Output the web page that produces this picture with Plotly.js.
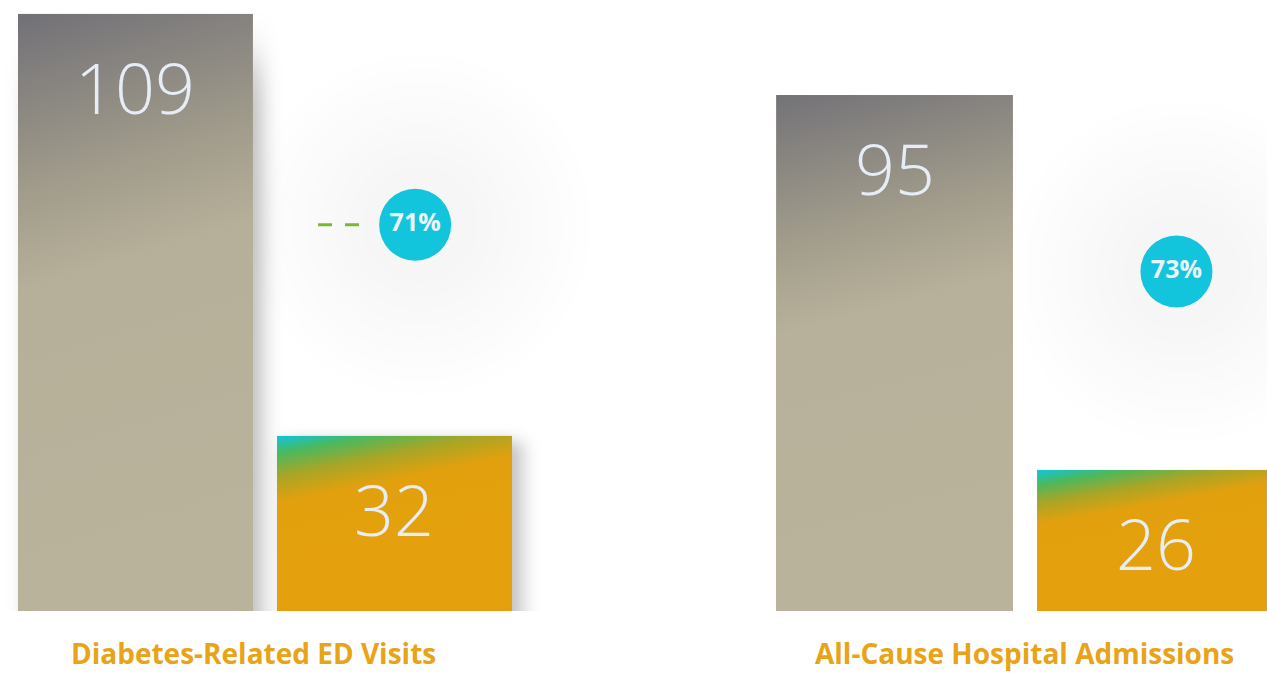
<!DOCTYPE html>
<html><head><meta charset="utf-8">
<script src="https://cdn.plot.ly/plotly-3.0.1.min.js"></script>
<style>html,body{margin:0;padding:0;background:#fff}#chart{width:1267px;height:674px}</style>
</head><body><div id="chart"></div>
<script>
// ---- data ----
const groups = ["Diabetes-Related ED Visits", "All-Cause Hospital Admissions"];
const periods = ["Before", "After"];
const beforeValues = [109, 95];
const afterValues = [32, 26];
const reductions = ["71%", "73%"];

// ---- styles ----
const GRAY = "#b9b39c", ORANGE = "#e5a00d", CYAN = "#12c4dc", LABEL = "#e8a317", NUM = "#e7edf7";
const BARW = 0.907;
const xa = ["x", "x2"], ya = ["y", "y2"];
const labelX = [0.455, 0.497];
const circleShift = [0, 2];

function gradURI(stops, x2, y2) {
  const s = stops.map(([o, c]) => `<stop offset="${o}" stop-color="${c}"/>`).join("");
  const svg = `<svg xmlns="http://www.w3.org/2000/svg" width="100" height="100" viewBox="0 0 100 100" preserveAspectRatio="none"><defs><linearGradient id="g" x1="0" y1="0" x2="${x2}" y2="${y2}">${s}</linearGradient></defs><rect width="100" height="100" fill="url(#g)"/></svg>`;
  return "data:image/svg+xml;base64," + btoa(svg);
}
const grayGrad = [
  gradURI([[0, "#717076"], [0.12, "#85827f"], [0.3, "#a19c8b"], [0.46, "#b6b09a"], [1, "#b9b39c"]], 0.12, 1),
  gradURI([[0, "#737277"], [0.12, "#878480"], [0.3, "#a39e8c"], [0.46, "#b7b19b"], [1, "#b9b39c"]], 0.12, 1)
];
const orangeGrad = [
  gradURI([[0, "#0cc6de"], [0.1, "#4cb85e"], [0.22, "#a9a526"], [0.36, "#e3a00e"], [1, "#e5a00d"]], 0.27, 1),
  gradURI([[0, "#0cc6de"], [0.1, "#4cb85e"], [0.22, "#a9a526"], [0.36, "#e3a00e"], [1, "#e5a00d"]], 0.3, 1)
];

function shadowURI() {
  const svg = `<svg xmlns="http://www.w3.org/2000/svg" width="120" height="120" viewBox="0 0 120 120" preserveAspectRatio="none"><defs><filter id="f" x="-0.5" y="-0.5" width="2" height="2"><feGaussianBlur stdDeviation="4"/></filter></defs><rect x="10" y="10" width="100" height="100" fill="rgba(0,0,0,0.26)" filter="url(#f)"/></svg>`;
  return "data:image/svg+xml;base64," + btoa(svg);
}
const shadow = shadowURI();

const traces = [], images = [], annotations = [], shapes = [];

groups.forEach((g, gi) => {
  const vals = [beforeValues[gi], afterValues[gi]];
  const cy = (vals[0] + vals[1]) / 2 + circleShift[gi];
  for (let k = 0; k < 9; k++) {
    traces.push({
      type: "scatter", mode: "markers", x: [1.1], y: [cy], xaxis: xa[gi], yaxis: ya[gi],
      marker: { size: 340 - k * 28, color: "rgba(110,110,110,0.006)", line: { width: 0 } }, hoverinfo: "skip", showlegend: false
    });
  }
  traces.push({
    type: "bar", x: [0, 1], y: vals, width: [BARW, BARW], xaxis: xa[gi], yaxis: ya[gi],
    marker: { color: [GRAY, ORANGE], line: { width: 0 } }, hoverinfo: "skip", showlegend: false, name: g
  });
  vals.forEach((v, i) => {
    images.push({
      source: shadow, xref: xa[gi], yref: ya[gi], x: i - BARW / 2 - BARW * 0.06, y: v + 2.5,
      sizex: BARW * 1.2, sizey: v * 1.2 + 4, xanchor: "left", yanchor: "top",
      sizing: "stretch", layer: "below"
    });
    images.push({
      source: i === 0 ? grayGrad[gi] : orangeGrad[gi], xref: xa[gi], yref: ya[gi],
      x: i - BARW / 2, y: v, sizex: BARW, sizey: v, xanchor: "left", yanchor: "top",
      sizing: "stretch", layer: "above"
    });
    annotations.push({
      xref: xa[gi], yref: ya[gi], x: i, y: v, yshift: -73, text: String(v), showarrow: false,
      font: { family: "Open Sans", size: 70, color: NUM, weight: 300 }, yanchor: "middle"
    });
  });
  traces.push({
    type: "scatter", mode: "markers+text", x: [1.08], y: [cy], xaxis: xa[gi], yaxis: ya[gi],
    marker: { size: 72, color: CYAN, line: { width: 0 } }, text: [reductions[gi]], textposition: "middle center",
    textfont: { family: "Open Sans", size: 25, color: "#eef4fc", weight: 700 }, hoverinfo: "skip", showlegend: false
  });
  annotations.push({
    xref: xa[gi], yref: "paper", x: labelX[gi], y: 0, yshift: -42, text: g, showarrow: false,
    font: { family: "Open Sans", size: 28, color: LABEL, weight: 700 }, yanchor: "middle"
  });
  if (gi === 0) {
    shapes.push({ type: "line", xref: "x", yref: "y", x0: 0.705, x1: 0.872, y0: cy, y1: cy,
      line: { color: "#7cb82f", width: 3, dash: "14px,13px" } });
  }
});

const axBase = { showgrid: false, zeroline: false, showticklabels: false, ticks: "", showline: false, fixedrange: true };
const layout = {
  width: 1267, height: 674, margin: { l: 0, r: 0, t: 0, b: 63 },
  paper_bgcolor: "#ffffff", plot_bgcolor: "rgba(0,0,0,0)",
  xaxis: Object.assign({}, axBase, { domain: [0, 1], range: [-0.523, 4.369] }),
  xaxis2: Object.assign({}, axBase, { overlaying: "x", range: [-3.427, 1.427] }),
  yaxis: Object.assign({}, axBase, { range: [0, 111.5] }),
  yaxis2: Object.assign({}, axBase, { overlaying: "y", range: [0, 112.5] }),
  images, annotations, shapes, showlegend: false, bargap: 0
};
Plotly.newPlot("chart", traces, layout, { staticPlot: true, displayModeBar: false });
</script></body></html>
